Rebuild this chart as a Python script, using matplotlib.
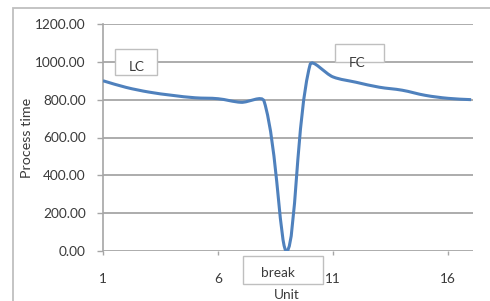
import numpy as np
import matplotlib
matplotlib.use("Agg")
import matplotlib.pyplot as plt
from matplotlib.path import Path
from matplotlib.patches import PathPatch, Rectangle

units = list(range(1, 18))
process_time = [900, 865, 840, 823, 810, 805, 786, 792, 0, 985, 920, 892, 866, 850, 823, 807, 800]
y_ticks = [0, 200, 400, 600, 800, 1000, 1200]
y_tick_labels = ["0.00", "200.00", "400.00", "600.00", "800.00", "1000.00", "1200.00"]
x_ticks = [1, 6, 11, 16]
x_tick_labels = ["1", "6", "11", "16"]

W, H = 490, 301
DPI = 100
plt.rcParams['font.family'] = ['Lato', 'DejaVu Sans']
txt = '#3a3a3a'
grid_c = '#a6a6a6'
FS = 9.8

fig = plt.figure(figsize=(W / DPI, H / DPI), dpi=DPI)

def fx(px):
    return px / W

def fy(py):
    return 1 - py / H

# chart-area border
fig.patches.append(Rectangle((fx(13), fy(320)), fx(520 - 13), fy(8) - fy(320),
                             transform=fig.transFigure, fill=False,
                             edgecolor='#bfbfbf', lw=1.3, zorder=0))

ax = fig.add_axes([fx(103), fy(251), fx(473) - fx(103), fy(24) - fy(251)])
ax.set_xlim(1, 17.08)
ax.set_ylim(0, 1200)
ax.set_facecolor('none')

for s in ['top', 'right', 'bottom']:
    ax.spines[s].set_visible(False)
ax.spines['left'].set_color(grid_c)
ax.spines['left'].set_linewidth(1.2)

ax.set_yticks(y_ticks)
ax.set_yticklabels(y_tick_labels, fontsize=FS, color=txt)
ax.set_xticks(x_ticks)
ax.set_xticklabels(x_tick_labels, fontsize=FS, color=txt)
ax.tick_params(axis='y', length=4.5, width=1.0, color=grid_c, pad=8)
ax.tick_params(axis='x', length=3, width=1.0, color=grid_c, pad=13)
ax.grid(axis='y', color=grid_c, lw=1.3)
ax.set_axisbelow(True)

# smoothed line (Excel-like bezier smoothing computed in display space)
fig.canvas.draw()
pts = ax.transData.transform(np.column_stack([units, process_time]))
n = len(pts)
verts = [pts[0]]
codes = [Path.MOVETO]
for i in range(n - 1):
    p0 = pts[i]
    p1 = pts[i + 1]
    pm = pts[i - 1] if i > 0 else p0
    pn = pts[i + 2] if i + 2 < n else p1
    d_prev = np.linalg.norm(p0 - pm)
    d_next = np.linalg.norm(p1 - p0)
    tot = d_prev + d_next if d_prev + d_next > 0 else 1
    c1 = p0 + (p1 - pm) * (d_next / tot) / 3 if i > 0 else p0 + (p1 - p0) / 3
    d_prev2 = np.linalg.norm(p1 - p0)
    d_next2 = np.linalg.norm(pn - p1)
    tot2 = d_prev2 + d_next2 if d_prev2 + d_next2 > 0 else 1
    c2 = p1 - (pn - p0) * (d_prev2 / tot2) / 3 if i + 2 < n else p1 - (p1 - p0) / 3
    verts += [c1, c2, p1]
    codes += [Path.CURVE4] * 3
inv = ax.transData.inverted()
vd = inv.transform(np.array(verts))
patch = PathPatch(Path(vd, codes), fill=False, edgecolor='#4f81bd', lw=2.2,
                  transform=ax.transData, zorder=3, clip_on=True)
ax.add_patch(patch)

ax.set_ylabel("Process time", fontsize=10.3, color=txt)
ax.yaxis.set_label_coords((33 - 103) / 370, 0.5)
fig.text(fx(287), fy(295), "Unit", fontsize=FS, color=txt, ha='center', va='center')

# text boxes
def box(x0, y0, x1, y1, label, tx, ty):
    fig.patches.append(Rectangle((fx(x0), fy(y1)), fx(x1 - x0), fy(y0) - fy(y1),
                                 transform=fig.transFigure, facecolor='white',
                                 edgecolor='#bfbfbf', lw=1.0, zorder=4))
    fig.text(fx(tx), fy(ty), label, fontsize=FS, color=txt, ha='center', va='center', zorder=5)

box(115, 49, 157, 75, "LC", 137, 67)
box(335, 44, 384, 62, "FC", 357, 63)
box(243, 256, 323, 284, "break", 278, 273)

fig.savefig("out.png", dpi=DPI)
